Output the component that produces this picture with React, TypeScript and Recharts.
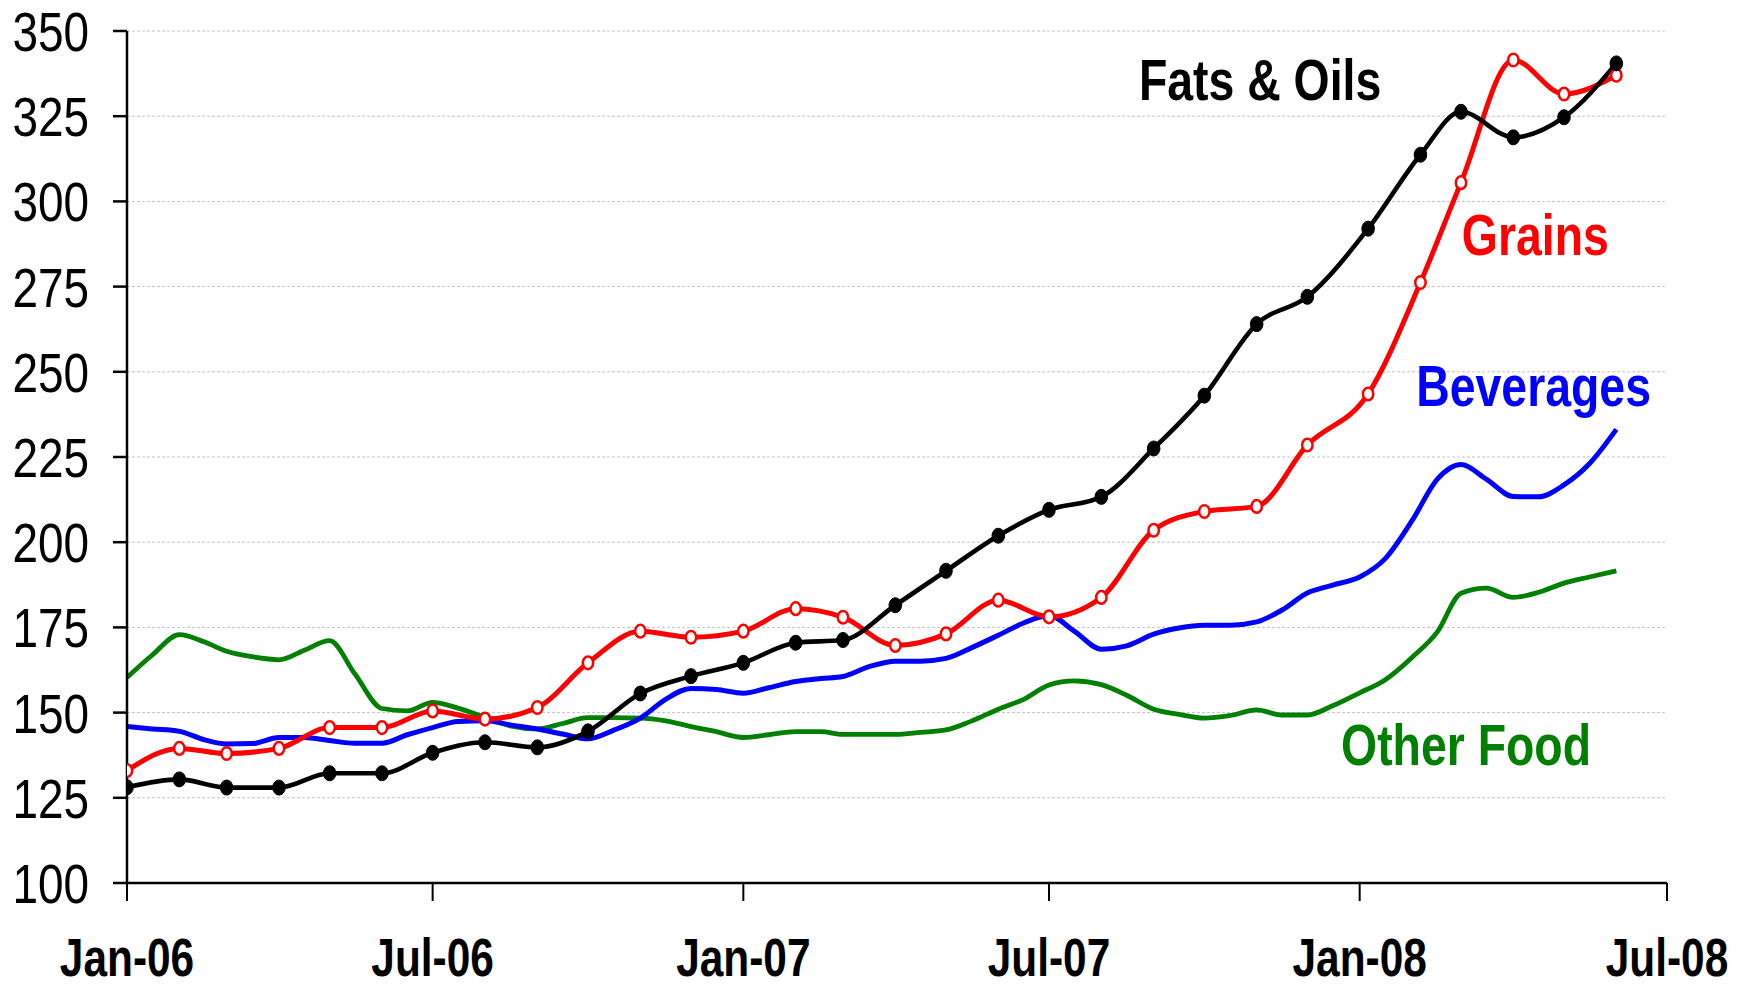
import React from 'react';
import { LineChart, Line, XAxis, YAxis, CartesianGrid, ReferenceDot } from 'recharts';

// ---------- data ----------
const monthDates = [
  '2006-01-01', '2006-02-01', '2006-03-01', '2006-04-01', '2006-05-01', '2006-06-01',
  '2006-07-01', '2006-08-01', '2006-09-01', '2006-10-01', '2006-11-01', '2006-12-01',
  '2007-01-01', '2007-02-01', '2007-03-01', '2007-04-01', '2007-05-01', '2007-06-01',
  '2007-07-01', '2007-08-01', '2007-09-01', '2007-10-01', '2007-11-01', '2007-12-01',
  '2008-01-06', '2008-02-06', '2008-03-01', '2008-04-01', '2008-05-01', '2008-06-01',
];

const fatsOils = [
  128.1, 130.4, 128, 128, 132.2, 132.2, 138.2, 141.3, 139.8, 144.5, 155.6, 160.7,
  164.6, 170.5, 171.3, 181.5, 191.6, 201.9, 209.5, 213.3, 227.5, 243, 264, 272,
  292, 313.7, 326.3, 318.8, 324.7, 340.5,
];

const grains = [
  133, 139.5, 138, 139.5, 145.6, 145.6, 150.5, 148.1, 151.5, 164.6, 173.9, 172.1,
  173.9, 180.5, 178, 169.7, 173.1, 183, 178.1, 183.8, 203.5, 209, 210.5, 228.5,
  243.5, 276.2, 305.5, 341.5, 331.5, 337,
];

const halfMonthDates = [
  '2006-01-01', '2006-01-16', '2006-02-01', '2006-02-16', '2006-03-01', '2006-03-16',
  '2006-04-01', '2006-04-16', '2006-05-01', '2006-05-16', '2006-06-01', '2006-06-16',
  '2006-07-01', '2006-07-16', '2006-08-01', '2006-08-16', '2006-09-01', '2006-09-16',
  '2006-10-01', '2006-10-16', '2006-11-01', '2006-11-16', '2006-12-01', '2006-12-16',
  '2007-01-01', '2007-01-16', '2007-02-01', '2007-02-16', '2007-03-01', '2007-03-16',
  '2007-04-01', '2007-04-16', '2007-05-01', '2007-05-16', '2007-06-01', '2007-06-16',
  '2007-07-01', '2007-07-16', '2007-08-01', '2007-08-16', '2007-09-01', '2007-09-16',
  '2007-10-01', '2007-10-16', '2007-11-01', '2007-11-16', '2007-12-01', '2007-12-16',
  '2008-01-01', '2008-01-16', '2008-02-01', '2008-02-16', '2008-03-01', '2008-03-16',
  '2008-04-01', '2008-04-16', '2008-05-01', '2008-05-16', '2008-06-01',
];

const beverages = [
  145.9, 145.2, 144.5, 142.0, 140.8, 140.9, 142.7, 142.7, 141.8, 141.0, 141.0, 143.5,
  145.6, 147.4, 147.6, 146.4, 145.2, 143.7, 142.3, 144.8, 148.4, 153.9, 157.1, 156.8,
  155.7, 157.3, 159.1, 160.0, 160.6, 163.4, 165.1, 165.1, 165.9, 169.0, 172.7, 176.3,
  178.5, 173.9, 168.6, 169.6, 173.0, 174.8, 175.6, 175.6, 176.6, 180.1, 185.1, 187.4,
  189.8, 195.1, 206.3, 218.5, 222.8, 218.5, 213.4, 213.3, 216.8, 223.0, 233.1,
];

const otherFood = [
  160.3, 166.9, 172.9, 170.7, 168.0, 166.4, 165.5, 168.3, 171.1, 161.3, 151.2, 150.5,
  153.0, 151.3, 148.6, 146.1, 145.2, 146.8, 148.5, 148.5, 148.4, 147.6, 145.9, 144.4,
  142.7, 143.5, 144.4, 144.4, 143.6, 143.6, 143.6, 144.2, 144.9, 147.5, 151.0, 153.9,
  158.1, 159.3, 158.2, 155.1, 151.0, 149.5, 148.4, 149.1, 150.8, 149.3, 149.3, 152.0,
  155.8, 159.6, 166.2, 173.7, 185.0, 186.5, 183.8, 185.3, 188.0, 189.8, 191.6,
];

const xTickDates = ['2006-01-01', '2006-07-01', '2007-01-01', '2007-07-01', '2008-01-01', '2008-07-01'];
const xTickLabels = ['Jan-06', 'Jul-06', 'Jan-07', 'Jul-07', 'Jan-08', 'Jul-08'];
const yTicks = [100, 125, 150, 175, 200, 225, 250, 275, 300, 325, 350];

const seriesNames = ['Fats & Oils', 'Grains', 'Beverages', 'Other Food'];
const seriesColors = ['#000000', '#FF0000', '#0000FF', '#008000'];
// label anchor (date, value) for each series name
const labelDates = ['2007-11-03', '2008-04-14', '2008-04-13', '2008-03-04'];
const labelValues = [329.8, 284.4, 239.9, 134.6];

// ---------- helpers ----------
const BASE = Date.UTC(2006, 0, 1);
const dayOf = (s: string) => (Date.parse(s + 'T00:00:00Z') - BASE) / 86400000;

const blackData = monthDates.map((d, i) => ({ d: dayOf(d), v: fatsOils[i] }));
const redData = monthDates.map((d, i) => ({ d: dayOf(d), v: grains[i] }));
const blueData = halfMonthDates.map((d, i) => ({ d: dayOf(d), v: beverages[i] }));
const greenData = halfMonthDates.map((d, i) => ({ d: dayOf(d), v: otherFood[i] }));
const xTicks = xTickDates.map(dayOf);

const FONT = "'Liberation Sans', Arial, sans-serif";
const SQUEEZE = 0.8;

const XTick = (props: any) => {
  const { x, y, payload } = props;
  const idx = xTicks.indexOf(payload.value);
  return (
    <text
      transform={`translate(${x} ${y + 75}) scale(${SQUEEZE} 1)`}
      x={0}
      y={0}
      textAnchor="middle"
      fontFamily={FONT}
      fontWeight="bold"
      fontSize={53}
      fill="#000"
    >
      {xTickLabels[idx]}
    </text>
  );
};

const YTick = (props: any) => {
  const { x, y, payload } = props;
  return (
    <text
      transform={`translate(${x} ${y + 20}) scale(0.82 1)`}
      x={0}
      y={0}
      textAnchor="end"
      fontFamily={FONT}
      fontSize={56}
      fill="#000"
    >
      {payload.value}
    </text>
  );
};

const BlackDot = (props: any) => {
  const { cx, cy, index } = props;
  return <ellipse key={`b${index}`} cx={cx} cy={cy} rx={6.3} ry={7.5} fill="#000" stroke="#000" strokeWidth={1} />;
};

const RedDot = (props: any) => {
  const { cx, cy, index } = props;
  return <ellipse key={`r${index}`} cx={cx} cy={cy} rx={5.2} ry={6.3} fill="#fff" stroke="#FF0000" strokeWidth={2.5} />;
};

const makeLabel = (i: number) => (props: any) => (
  <text
    transform={`translate(${props.cx} ${props.cy}) scale(${SQUEEZE} 1)`}
    x={0}
    y={0}
    textAnchor="middle"
    fontFamily={FONT}
    fontWeight="bold"
    fontSize={58}
    fill={seriesColors[i]}
  >
    {seriesNames[i]}
  </text>
);

export default function App() {
  return (
    <div style={{ position: 'absolute', left: 0, top: 0, width: 1746, height: 988, background: '#fff' }}>
      <LineChart width={1746} height={988} margin={{ top: 31, right: 79, bottom: 0, left: 0 }}>
        <CartesianGrid vertical={false} stroke="#c4c4c4" strokeDasharray="3 2" strokeWidth={1} />
        <XAxis
          type="number"
          dataKey="d"
          domain={[xTicks[0], xTicks[xTicks.length - 1]]}
          ticks={xTicks}
          interval={0}
          height={105}
          tickSize={18}
          tickMargin={0}
          axisLine={{ stroke: '#000', strokeWidth: 2.5 }}
          tickLine={{ stroke: '#000', strokeWidth: 2 }}
          tick={<XTick />}
          allowDataOverflow
        />
        <YAxis
          type="number"
          domain={[100, 350]}
          ticks={yTicks}
          interval={0}
          width={127}
          tickSize={14}
          tickMargin={24}
          axisLine={{ stroke: '#000', strokeWidth: 2.5 }}
          tickLine={{ stroke: '#000', strokeWidth: 2.5 }}
          tick={<YTick />}
        />
        <Line data={greenData} dataKey="v" type="monotone" stroke="#008000" strokeWidth={4.8} dot={false} activeDot={false} isAnimationActive={false} />
        <Line data={blueData} dataKey="v" type="monotone" stroke="#0000FF" strokeWidth={5} dot={false} activeDot={false} isAnimationActive={false} />
        <Line data={redData} dataKey="v" type="monotone" stroke="#FF0000" strokeWidth={5} dot={RedDot} activeDot={false} isAnimationActive={false} />
        <Line data={blackData} dataKey="v" type="monotone" stroke="#000000" strokeWidth={4.6} dot={BlackDot} activeDot={false} isAnimationActive={false} />
        {seriesNames.map((n, i) => (
          <ReferenceDot key={n} x={dayOf(labelDates[i])} y={labelValues[i]} r={0} shape={makeLabel(i)} ifOverflow="visible" />
        ))}
      </LineChart>
    </div>
  );
}
